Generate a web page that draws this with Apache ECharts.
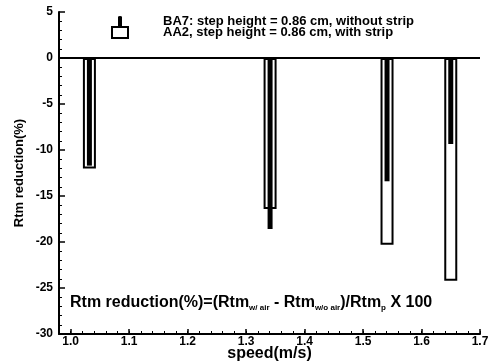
<!DOCTYPE html>
<html>
<head>
<meta charset="utf-8">
<script src="https://cdn.jsdelivr.net/npm/echarts@6/dist/echarts.min.js"></script>
<style>
  html, body { margin: 0; padding: 0; background: #fff; }
  #chart { width: 500px; height: 362px; }
</style>
</head>
<body>
<div id="chart"></div>
<script>
// Towing speeds (m/s) at which the step models were run
const speeds = [1.032, 1.341, 1.541, 1.650];
// Rtm reduction (%) for AA2 (with strip) and BA7 (without strip)
const withStrip = [-12.0, -16.4, -20.3, -24.2];
const withoutStrip = [-11.7, -18.6, -13.4, -9.35];
// Axis ticks
const xTicks = [1.0, 1.1, 1.2, 1.3, 1.4, 1.5, 1.6, 1.7];
const nameWith = 'AA2, step height = 0.86 cm, with strip';
const nameWithout = 'BA7: step height = 0.86 cm, without strip';

const FONT = 'Liberation Sans, Arial, Helvetica, sans-serif';
const INK = '#000';

const chart = echarts.init(document.getElementById('chart'), null, { renderer: 'canvas' });

chart.setOption({
  animation: false,
  backgroundColor: '#fff',
  textStyle: { fontFamily: FONT, color: INK },
  grid: { left: 59, right: 20, top: 12, bottom: 28, containLabel: false, outerBoundsMode: 'none' },
  legend: {
    orient: 'vertical',
    left: 106,
    top: 10,
    itemWidth: 16,
    itemHeight: 11,
    itemGap: -2,
    selectedMode: false,
    data: [
      { name: nameWithout, icon: 'path://M0,1Q0,0 2,0Q4,0 4,1L4,11L0,11Z' },
      { name: nameWith, icon: 'rect' }
    ],
    formatter: n => '{g|}' + n,
    textStyle: {
      fontFamily: FONT, fontWeight: 'bold', fontSize: 13, color: INK,
      rich: { g: { width: 30 } }
    }
  },
  xAxis: [
    {
      type: 'value',
      min: 0.98,
      max: 1.7,
      name: 'speed(m/s)',
      nameLocation: 'middle',
      nameGap: 12,
      nameMoveOverlap: false,
      nameTextStyle: { fontFamily: FONT, fontWeight: 'bold', fontSize: 16, color: INK },
      axisLine: { show: true, onZero: false, lineStyle: { color: INK, width: 2 } },
      axisTick: { show: true, inside: true, length: 5, customValues: xTicks, lineStyle: { color: INK, width: 1.5 } },
      axisLabel: {
        show: true, margin: 2, customValues: xTicks,
        fontFamily: FONT, fontWeight: 'bold', fontSize: 12, color: INK,
        formatter: v => v.toFixed(1)
      },
      splitLine: { show: false }
    },
    {
      type: 'value',
      min: 0.98,
      max: 1.7,
      interval: 0.02,
      position: 'bottom',
      axisLine: { show: false, onZero: false },
      axisTick: { show: true, inside: true, length: 3, lineStyle: { color: INK, width: 1 } },
      axisLabel: { show: false },
      splitLine: { show: false }
    }
  ],
  yAxis: {
    type: 'value',
    min: -30,
    max: 5,
    interval: 5,
    name: 'Rtm reduction(%)',
    nameLocation: 'middle',
    nameRotate: 90,
    nameGap: 33,
    nameMoveOverlap: false,
    nameTextStyle: { fontFamily: FONT, fontWeight: 'bold', fontSize: 13, color: INK },
    axisLine: { show: true, onZero: false, lineStyle: { color: INK, width: 2 } },
    axisTick: { show: true, inside: true, length: 6, lineStyle: { color: INK, width: 1.5 } },
    minorTick: { show: true, splitNumber: 5, length: 3, lineStyle: { color: INK, width: 1 } },
    axisLabel: { margin: 6, fontFamily: FONT, fontWeight: 'bold', fontSize: 12, color: INK },
    splitLine: { show: false },
    minorSplitLine: { show: false }
  },
  series: [
    {
      name: nameWith,
      type: 'bar',
      xAxisIndex: 0,
      barWidth: 13,
      z: 2,
      itemStyle: { color: '#fff', borderColor: INK, borderWidth: 2 },
      data: speeds.map((s, i) => [s, withStrip[i]]),
      markLine: {
        silent: true,
        symbol: ['none', 'none'],
        label: { show: false },
        lineStyle: { color: INK, width: 2, type: 'solid' },
        data: [{ yAxis: 0 }]
      }
    },
    {
      name: nameWithout,
      type: 'bar',
      xAxisIndex: 1,
      barWidth: 5,
      z: 3,
      itemStyle: { color: INK },
      data: speeds.map((s, i) => [s, withoutStrip[i]])
    }
  ],
  graphic: [
    {
      type: 'text',
      left: 70,
      top: 295,
      style: {
        text: '{a|Rtm reduction(%)=(Rtm}{s|w/ air}{a| - Rtm}{s|w/o air}{a|)/Rtm}{s|p}{a| X 100}',
        rich: {
          a: { fontFamily: FONT, fontWeight: 'bold', fontSize: 16, lineHeight: 18, fill: INK },
          s: { fontFamily: FONT, fontWeight: 'bold', fontSize: 8, lineHeight: 8, verticalAlign: 'bottom', fill: INK }
        }
      }
    }
  ]
});
</script>
</body>
</html>
